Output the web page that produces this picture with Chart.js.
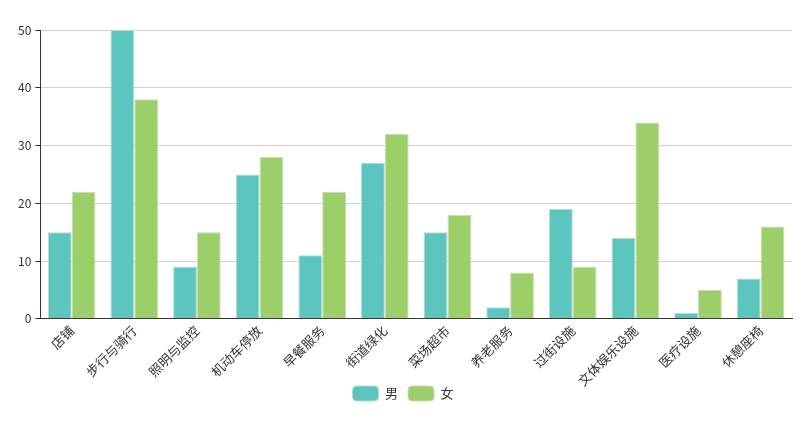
<!DOCTYPE html>
<html>
<head>
<meta charset="utf-8">
<script src="https://cdn.jsdelivr.net/npm/chart.js@4"></script>
<style>
  html, body { margin: 0; padding: 0; background: #fff; }
  #wrap { width: 812px; height: 426px; }
</style>
</head>
<body>
<div id="wrap"><canvas id="chart" width="812" height="426"></canvas></div>
<script>
// ====== DATA ======
const categories = ['店铺', '步行与骑行', '照明与监控', '机动车停放', '早餐服务', '街道绿化',
  '菜场超市', '养老服务', '过街设施', '文体娱乐设施', '医疗设施', '休憩座椅'];
const maleValues = [15, 50, 9, 25, 11, 27, 15, 2, 19, 14, 1, 7];
const femaleValues = [22, 38, 15, 28, 22, 32, 18, 8, 9, 34, 5, 16];
const seriesNames = ['男', '女'];

const FONT = '"Noto Sans CJK SC", "DejaVu Sans", sans-serif';

// nudge the legend up a little without moving the axis
const legendNudge = {
  id: 'legendNudge',
  afterLayout(chart) {
    if (!chart.legend) return;
    chart.legend.top -= 12;
    chart.legend.bottom -= 12;
  }
};

const ctx = document.getElementById('chart');
new Chart(ctx, {
  type: 'bar',
  data: {
    labels: categories,
    datasets: [{
      label: seriesNames[0],
      data: maleValues,
      backgroundColor: '#5bc5be',
      borderColor: '#b8d8d6',
      borderWidth: 1,
      categoryPercentage: 0.76,
      barPercentage: 1
    }, {
      label: seriesNames[1],
      data: femaleValues,
      backgroundColor: '#9ccf69',
      borderColor: '#c9dcb5',
      borderWidth: 1,
      categoryPercentage: 0.76,
      barPercentage: 1
    }]
  },
  plugins: [legendNudge],
  options: {
    responsive: false,
    animation: false,
    layout: { padding: { left: 14, right: 20, top: 30, bottom: 3 } },
    plugins: {
      legend: {
        position: 'bottom',
        labels: {
          color: '#333',
          font: { family: FONT, size: 13 },
          boxWidth: 26,
          boxHeight: 15,
          useBorderRadius: true,
          borderRadius: 4,
          padding: 10
        }
      },
      tooltip: { enabled: false }
    },
    scales: {
      y: {
        min: 0,
        max: 50,
        ticks: { stepSize: 10, color: '#333', font: { family: FONT, size: 12 }, padding: 4 },
        grid: { color: '#d0d0d0', drawTicks: true, tickLength: 5, tickColor: '#333' },
        border: { color: '#333', width: 1 }
      },
      x: {
        ticks: {
          color: '#333',
          font: { family: FONT, size: 13 },
          maxRotation: 45,
          minRotation: 45,
          autoSkip: false,
          padding: -1
        },
        grid: { display: false, drawOnChartArea: false, drawTicks: true, tickLength: 5, tickColor: '#333' },
        border: { color: '#333', width: 1 }
      }
    }
  }
});
</script>
</body>
</html>
